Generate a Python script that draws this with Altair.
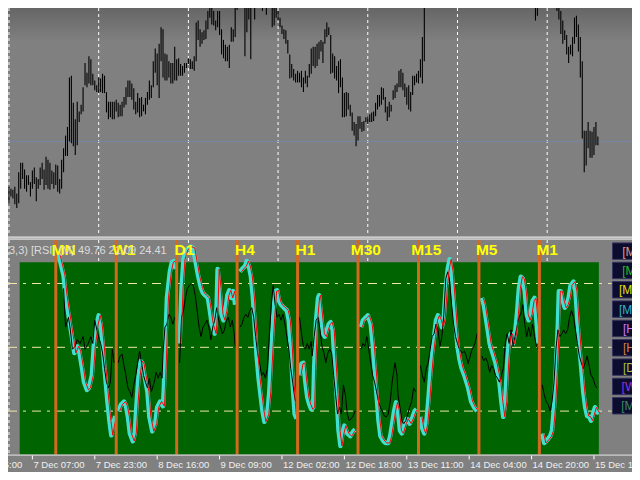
import altair as alt
import pandas as pd

# ---------------- data ----------------
# price pane: bar index, high, low (price points)
bar_u = list(range(0, 214)) + [270, 271] + list(range(281, 303))
bar_high = [
    55, 53, 52, 55, 48, 70, 80, 80, 73, 67,
    67, 60, 72, 75, 65, 63, 75, 80, 73, 86,
    83, 80, 72, 70, 78, 77, 63, 83, 95, 108,
    117, 168, 170, 142, 125, 143, 133, 140, 158, 183,
    173, 190, 187, 172, 165, 160, 168, 167, 172, 170,
    153, 143, 143, 143, 143, 145, 142, 140, 143, 148,
    158, 165, 165, 162, 157, 143, 152, 147, 148, 140,
    147, 153, 165, 160, 185, 198, 193, 203, 220, 218,
    193, 192, 185, 183, 183, 200, 187, 188, 182, 180,
    183, 183, 188, 187, 185, 190, 225, 227, 218, 215,
    217, 227, 237, 260, 260, 237, 227, 237, 237, 218,
    207, 202, 200, 202, 220, 218, 260, 260, 275, 280,
    270, 260, 260, 260, 260, 270, 260, 270, 275, 272,
    260, 268, 260, 266, 264, 260, 260, 260, 237, 230,
    222, 218, 217, 207, 192, 182, 177, 172, 175, 173,
    175, 168, 175, 170, 182, 198, 200, 200, 203, 205,
    207, 205, 218, 225, 220, 212, 193, 190, 180, 185,
    187, 168, 152, 153, 152, 140, 132, 122, 120, 128,
    128, 122, 123, 127, 128, 130, 132, 133, 142, 150,
    150, 158, 157, 148, 138, 143, 140, 155, 160, 162,
    175, 177, 173, 162, 158, 160, 153, 170, 170, 172,
    175, 187, 210, 260,
    260, 260,
    260, 260, 237, 227, 217, 212, 200, 202, 210, 230, 232,
    223, 210, 185, 113, 113, 122, 113, 112, 117, 122, 107,
]
bar_low = [
    38, 45, 43, 37, 33, 38, 53, 63, 53, 50,
    57, 45, 53, 58, 40, 53, 57, 63, 52, 57,
    53, 52, 58, 53, 57, 50, 48, 53, 70, 87,
    87, 102, 100, 97, 88, 98, 122, 130, 133, 160,
    158, 162, 160, 160, 155, 153, 152, 153, 152, 152,
    132, 125, 127, 125, 125, 133, 127, 128, 128, 137,
    140, 148, 148, 145, 135, 130, 132, 127, 128, 133,
    130, 140, 145, 147, 158, 173, 160, 147, 185, 168,
    165, 165, 168, 162, 162, 165, 165, 170, 170, 170,
    173, 178, 182, 177, 177, 175, 185, 207, 200, 203,
    207, 208, 218, 230, 223, 222, 217, 220, 212, 192,
    188, 185, 185, 178, 205, 205, 210, 238, 250, 255,
    248, 190, 215, 228, 187, 245, 228, 248, 250, 246,
    237, 244, 233, 245, 243, 220, 222, 230, 227, 220,
    213, 208, 203, 193, 167, 168, 165, 163, 163, 163,
    158, 153, 162, 158, 168, 172, 180, 178, 180, 187,
    195, 183, 203, 210, 212, 172, 173, 167, 165, 152,
    158, 127, 127, 128, 135, 128, 113, 108, 97, 103,
    115, 112, 113, 122, 120, 122, 122, 123, 128, 135,
    138, 140, 145, 132, 123, 127, 133, 145, 147, 153,
    158, 158, 155, 148, 140, 135, 133, 150, 160, 163,
    162, 168, 162, 185,
    227, 232,
    237, 228, 213, 203, 207, 192, 183, 192, 190, 203, 210,
    195, 168, 105, 70, 77, 95, 85, 85, 88, 98, 98,
]
price_line = [102]

# timeframes and the bar where each indicator block starts
tf_names = ["MN", "W1", "D1", "H4", "H1", "M30", "M15", "M5", "M1"]
tf_start = [24, 55, 86, 117, 148, 179, 210, 241, 272]

# fast RSI (turquoise / red), per timeframe block
fast_u = {
    "MN": [25.5, 26, 28, 29, 30.5, 31.5, 32.5, 33.5, 35, 36, 37.5, 38.5, 40, 41, 42.5, 43.5, 45, 46, 47, 48, 49, 50.5, 51.5, 52.5, 53.5, 54.5],
    "W1": [56, 57.5, 59, 60, 61, 62, 63.5, 64.5, 65.5, 66.5, 67.5, 68.5, 69.5, 71, 72, 73.5, 75, 76, 77.5, 79, 79.5, 80.5, 81, 82.5, 83.5, 84.5, 85.5],
    "D1": [87.5, 88.5, 89.5, 91, 93, 94.5, 95.5, 97, 98.5, 99.5, 100.5, 102, 103, 104, 105.5, 106.5, 107, 108, 109, 110, 111, 112, 113, 114, 115, 116],
    "H4": [118.5, 119.5, 121, 122, 123, 124, 125, 126, 127, 128, 129, 130, 131, 132.5, 133.5, 134.5, 135.5, 136.5, 137.5, 138.5, 139.5, 141, 142.5, 143.5, 144.5, 145.5, 146.5, 147.5],
    "H1": [149, 150, 151, 152, 153, 154, 155, 156, 156.5, 157.5, 158.5, 159, 160, 161, 162, 163, 164, 165, 166, 167, 168, 169, 170, 171, 172, 173.5, 175, 176.5, 177.5],
    "M30": [180.5, 181.5, 183, 184, 185.5, 186.5, 187.5, 188.5, 189.5, 190.5, 192, 193, 194.5, 195.5, 196.5, 197.5, 198.5, 199.5, 200.5, 201.5, 203, 204, 205.5, 207, 208, 209],
    "M15": [211, 212, 213, 214, 215, 216, 217, 218, 219, 220, 221, 222, 223, 224, 225, 226, 227, 228, 229, 230, 231, 232, 233.5, 235.5, 237, 238.5, 240],
    "M5": [242.5, 243.5, 244.5, 245.5, 246.5, 248, 249.5, 250.5, 251.5, 252.5, 253.5, 254.5, 255.5, 256.5, 257.5, 258.5, 259.5, 260.5, 261.5, 262.5, 263.5, 264.5, 265.5, 266.5, 267.5, 268.5, 269.5, 270.5, 271.5],
    "M1": [273.5, 274.5, 276, 277.5, 278.5, 279.5, 280.5, 281.5, 282, 283, 284, 285, 286, 287, 288, 289.5, 290.5, 291.5, 292.5, 293.5, 294.5, 295.5, 296.5, 297.5, 298.5, 299.5, 300.5, 301.5, 302.5],
}
fast_v = {
    "MN": [93.6, 91.4, 83.6, 74.5, 65.5, 59.5, 53.6, 47.3, 50.5, 48.2, 40, 33.6, 30, 30.9, 36.8, 50.5, 60.9, 65, 60.9, 51.8, 40, 24.5, 15.5, 8.6, 14.1, 17.7],
    "W1": [20, 23.2, 24.5, 22.3, 17.3, 9.5, 5.9, 9.5, 24.5, 36.8, 43.6, 42.3, 36.8, 29.1, 17.3, 10.5, 14.1, 21.8, 24.5, 22.3, 32.3, 59.5, 73.2, 85.5, 90, 90.5, 86.8],
    "D1": [51.8, 77.7, 91.4, 95.9, 97.3, 96.8, 91.4, 83.6, 77.7, 75.5, 74.5, 73.2, 67.3, 60.9, 56.4, 70, 86.8, 77.7, 65.5, 62.7, 67.3, 74.5, 76.8, 73.2, 76.4, 70],
    "H4": [85.5, 86.8, 88.2, 90.5, 88.2, 83.6, 74.5, 60.9, 45.9, 35.5, 27.7, 20, 15, 18.6, 29.1, 47.3, 64.1, 76.4, 76.8, 71.8, 70, 68.6, 67.3, 62.7, 50.5, 32.3, 18.6, 16.4],
    "H1": [36.8, 42.3, 42.7, 33.6, 26.4, 23.2, 20.9, 21.8, 40, 62.7, 73.2, 74.5, 65.5, 56.4, 55, 58.2, 60.9, 61.8, 58.2, 42.7, 27.7, 10.9, 3.6, 9.5, 13.2, 9.5, 8.2, 10.5, 11.4],
    "M30": [59.5, 62.7, 64.1, 65, 60.9, 51.8, 40, 27.7, 15.5, 8.2, 5.9, 5, 5, 8.2, 14.1, 20, 24.1, 20, 10.9, 9.5, 14.1, 16.4, 14.1, 17.3, 20, 20.9],
    "M15": [17.3, 11.8, 9.5, 14.1, 24.5, 36.8, 47.3, 55, 62.7, 65, 62.7, 59.5, 64.1, 77.7, 86.8, 91.4, 85.5, 73.2, 60.9, 50.5, 44.5, 40.5, 36.8, 30.9, 24.5, 21.8, 20],
    "M5": [73.2, 70, 64.1, 58.2, 51.8, 47.3, 42.7, 38.2, 33.6, 24.5, 17.3, 24.5, 42.7, 55, 56.4, 51.8, 56.4, 65.5, 77.7, 83.2, 82.3, 76.4, 65.5, 62.7, 65.5, 71.8, 73.2, 62.7, 51.8],
    "M1": [9.5, 5, 6.4, 8.2, 10.9, 21.8, 40, 60.9, 76.4, 76.4, 71.8, 68.6, 70, 73.2, 79.1, 80.9, 76.4, 62.7, 50.5, 40, 29.1, 21.8, 17.7, 17.3, 15.5, 18.6, 21.8, 20, 18.6],
}

# slow RSI (black), per timeframe block
slow_u = {
    "MN": [28, 29, 30.5, 31.5, 32.5, 34, 35, 36.5, 38, 39, 40.5, 42, 43, 44, 45.5, 47, 48, 49, 50, 51, 52, 53, 54],
    "W1": [56, 57, 58, 59, 60, 61, 62, 63, 64, 65, 66, 67, 68, 69, 70, 71, 72, 73, 74.5, 75.5, 76.5, 77.5, 78.5, 79, 80, 81, 82, 83, 84, 85],
    "D1": [87.5, 88.5, 89.5, 90.5, 91.5, 92.5, 93.5, 94.5, 95.5, 96.5, 97.5, 98.5, 99.5, 100.5, 101.5, 102.5, 103.5, 104.5, 105.5, 106.5, 107.5, 108.5, 109.5, 110.5, 111.5, 112.5, 113.5, 114.5, 115.5, 116],
    "H4": [118.5, 119.5, 120.5, 121.5, 122.5, 123.5, 124.5, 125.5, 126.5, 127.5, 128.5, 129.5, 130.5, 131.5, 132.5, 133.5, 134.5, 135.5, 136.5, 137.5, 138.5, 139.5, 140.5, 141.5, 142.5, 143.5, 144.5, 145.5, 146.5, 147],
    "H1": [149, 150, 151, 152, 153, 154, 155, 155.5, 156.5, 157.5, 158.5, 159.5, 160.5, 161.5, 162.5, 163.5, 164.5, 165.5, 166.5, 167.5, 168.5, 169.5, 170.5, 171.5, 172.5, 173.5, 174.5, 175.5, 176.5, 177.5],
    "M30": [180.5, 181.5, 182.5, 183.5, 184.5, 185.5, 186.5, 187.5, 188.5, 189.5, 190.5, 191.5, 192.5, 193.5, 194.5, 195.5, 196.5, 197.5, 198, 199, 199.5, 200.5, 201.5, 202.5, 203.5, 204.5, 205.5, 206.5, 207.5, 208.5],
    "M15": [211, 212, 213, 214, 215, 216, 217, 218, 219, 220, 221, 222, 223, 224, 225, 226, 227, 228, 229, 230, 231, 232.5, 233.5, 234.5, 235.5, 236.5, 237.5, 239, 240],
    "M5": [242.5, 243.5, 244.5, 245.5, 246.5, 247.5, 248.5, 249.5, 250.5, 251.5, 252.5, 253.5, 254.5, 255.5, 256.5, 257.5, 258.5, 259.5, 260.5, 261.5, 262.5, 263.5, 264.5, 265.5, 266.5, 267.5, 268.5, 269.5, 270.5, 271.5],
    "M1": [273.5, 274.5, 275.5, 276.5, 277.5, 278.5, 279.5, 280.5, 281.5, 282.5, 283.5, 284.5, 285.5, 286.5, 287.5, 288.5, 289.5, 290.5, 291.5, 292.5, 293.5, 294.5, 295.5, 296.5, 297.5, 298.5, 299.5, 300.5, 301.5],
}
slow_v = {
    "MN": [77.7, 59.5, 64.1, 58.2, 49.1, 50.5, 53.6, 51.8, 55, 49.1, 51.4, 55, 51.8, 62.7, 56.4, 51.8, 47.3, 40, 33.6, 30.9, 33.6, 49.1, 42.7],
    "W1": [42.7, 45.9, 46.8, 41.4, 36.8, 30.9, 29.1, 26.4, 32.3, 36.8, 42.7, 48.2, 42.7, 36.8, 33.6, 30.9, 35.5, 29.1, 33.6, 38.2, 35.5, 38.2, 35.5, 47.3, 59.5, 60.9, 65.5, 64.1, 60.9, 64.1],
    "D1": [42.7, 64.1, 67.3, 73.2, 77.7, 79.1, 80, 79.1, 74.5, 67.3, 59.5, 55, 59.5, 60.9, 62.7, 59.5, 53.6, 59.5, 62.7, 68.6, 62.7, 59.5, 56.4, 58.2, 62.7, 64.1, 59.5, 62.7, 56.4, 50.5],
    "H4": [59.5, 60.9, 64.1, 65.5, 64.1, 67.3, 68.6, 64.1, 55, 47.3, 42.7, 36.8, 38.2, 35.5, 40, 55, 70, 79.1, 70, 64.1, 65.5, 62.7, 65.5, 60.9, 55, 49.1, 40, 33.6, 26.4, 24.5],
    "H1": [64.1, 56.4, 50.5, 49.1, 51.8, 49.1, 52.7, 45.9, 55, 62.7, 64.1, 58.2, 50.5, 47.3, 42.7, 47.3, 49.1, 47.3, 36.8, 27.7, 18.6, 21.8, 18.6, 32.3, 27.7, 18.6, 15.5, 16.4, 17.7, 20],
    "M30": [49.1, 51.8, 50.5, 55, 49.1, 42.7, 36.8, 33.6, 29.1, 24.5, 21.8, 20, 17.7, 17.3, 18.6, 24.5, 33.6, 40, 42.7, 36.8, 27.7, 21.8, 15.5, 14.1, 15.5, 18.6, 21.8, 24.5, 30.9, 29.1],
    "M15": [41.4, 36.8, 33.6, 40, 42.7, 49.1, 55, 56.4, 60.9, 58.2, 50.5, 55, 65.5, 82.3, 85.5, 80.9, 70, 60.9, 55, 51.8, 49.1, 47.3, 48.2, 45.9, 42.3, 45.9, 49.1, 51.8, 56.4],
    "M5": [45.9, 43.6, 45, 42.7, 38.2, 41.4, 40, 36.8, 35.5, 33.6, 36.8, 40, 51.8, 56.4, 51.8, 58.2, 50.5, 55, 59.5, 64.1, 65.5, 70, 60.9, 55, 59.5, 55, 60.9, 55, 50.5, 49.1],
    "M1": [32.3, 27.7, 24.5, 23.2, 20, 24.5, 33.6, 49.1, 58.2, 55, 56.4, 58.2, 56.4, 58.2, 64.1, 67.3, 64.1, 58.2, 51.8, 45.9, 42.7, 40, 42.7, 45.9, 41.4, 36.8, 35.5, 32.3, 30.9],
}

rsi_levels = [20, 50, 80]
grid_u = [0, 46, 92, 138, 184, 230, 276]
tick_u = [-20, 12, 44, 76, 108, 140, 172, 204, 236, 268, 300]
tick_labels = ["6 Dec 15:00", "7 Dec 07:00", "7 Dec 23:00", "8 Dec 16:00", "9 Dec 09:00",
               "12 Dec 02:00", "12 Dec 18:00", "13 Dec 11:00", "14 Dec 04:00",
               "14 Dec 20:00", "15 Dec 13:00"]
button_labels = ["[M1]", "[M5]", "[M15]", "[M30]", "[H1]", "[H4]", "[D1]", "[W1]", "[MN]"]
button_colors = ["#e9967a", "#22c022", "#e0e000", "#2ab4c8", "#c878ff",
                 "#d08040", "#a8c040", "#9a30e8", "#3a8a62"]
indicator_title = "3,3) [RSI] (M) 49.76 21.09 24.41"

# ---------------- layout ----------------
W, H = 624, 464
SX, SY = W / 640, H / 480


def px(v):
    return v * SX


def py(v):
    return v * SY


def xsc():
    return alt.Scale(domain=[-0.5, 319.5])


PRICE = alt.Scale(domain=[0, 240], range=[py(240), py(0)])
RSI = alt.Scale(domain=[0, 100], range=[py(461), py(241)])
FONT = "Liberation Sans"

one = pd.DataFrame({"a": [0]})

bars = pd.DataFrame({"u": bar_u, "high": bar_high, "low": bar_low})
fast = pd.DataFrame([(tf, u, v) for tf in tf_names for u, v in zip(fast_u[tf], fast_v[tf])],
                    columns=["tf", "u", "v"])
slow = pd.DataFrame([(tf, u, v) for tf in tf_names for u, v in zip(slow_u[tf], slow_v[tf])],
                    columns=["tf", "u", "v"])
tfs = pd.DataFrame({"tf": tf_names, "u": tf_start})
grid = pd.DataFrame({"u": grid_u})
ticks = pd.DataFrame({"u": tick_u, "label": tick_labels})
levels = pd.DataFrame({"level": rsi_levels})
btn = pd.DataFrame({"k": list(range(len(button_labels))), "label": button_labels, "col": button_colors})
btn["k2"] = btn["k"] + 0.85
btn["kc"] = btn["k"] + 0.45
hline = pd.DataFrame({"p": price_line})

X = lambda f: alt.X(f, scale=xsc(), axis=None)

grad = alt.Chart(one).mark_rect(
    color=alt.LinearGradient(gradient="linear",
                             stops=[alt.GradientStop(color="#666666", offset=0),
                                    alt.GradientStop(color="#808080", offset=1)],
                             x1=0, x2=0, y1=0, y2=1)
).encode(x=alt.value(0), x2=alt.value(W), y=alt.value(0), y2=alt.value(py(35)))

top_grid = alt.Chart(grid).mark_rule(color="white", strokeWidth=1, strokeDash=[3, 3]).encode(
    x=X("u:Q"), y=alt.value(0), y2=alt.value(py(236)))

price_h = alt.Chart(hline).mark_rule(color="#7686a6", strokeWidth=1).encode(
    y=alt.Y("p:Q", scale=PRICE, axis=None), x=alt.value(0), x2=alt.value(W))

price_bars = alt.Chart(bars).mark_rule(color="black", strokeWidth=1.1, clip=True).encode(
    x=X("u:Q"), y=alt.Y("high:Q", scale=PRICE, axis=None), y2="low:Q")

sep = alt.Chart(pd.DataFrame({"yy": [py(237), py(239)]})).mark_rule(color="white", strokeWidth=1).encode(
    y=alt.Y("yy:Q", scale=None), x=alt.value(0), x2=alt.value(W))

ind_grid = alt.Chart(grid).mark_rule(color="white", strokeWidth=1, strokeDash=[3, 3]).encode(
    x=X("u:Q"), y=alt.value(py(240)), y2=alt.value(py(462)))

green = alt.Chart(one).mark_rect(color="#006400").encode(
    x=alt.value(px(12)), x2=alt.value(px(606)), y=alt.value(py(263)), y2=alt.value(py(462)))

level_rules = alt.Chart(levels).mark_rule(color="#eee8aa", strokeWidth=1, strokeDash=[9, 6, 3, 6]).encode(
    y=alt.Y("level:Q", scale=RSI, axis=None), x=alt.value(0), x2=alt.value(px(619)))

cyan = alt.Chart(fast).mark_line(color="#40e0d0", strokeWidth=4.5, strokeJoin="round").encode(
    x=X("u:Q"), y=alt.Y("v:Q", scale=RSI, axis=None), detail="tf:N")

black = alt.Chart(slow).mark_line(color="black", strokeWidth=1).encode(
    x=X("u:Q"), y=alt.Y("v:Q", scale=RSI, axis=None), detail="tf:N")

red = alt.Chart(fast).mark_line(color="#ff0000", strokeWidth=1, xOffset=1.5).encode(
    x=X("u:Q"), y=alt.Y("v:Q", scale=RSI, axis=None), detail="tf:N")

orange = alt.Chart(tfs).mark_rule(color="#d2691e", strokeWidth=3).encode(
    x=X("u:Q"), y=alt.value(py(240)), y2=alt.value(py(462)))

tf_text = alt.Chart(tfs).mark_text(
    align="center", baseline="alphabetic", dx=px(8), font=FONT, fontWeight="bold",
    fontSize=15.5, color="#ffff00").encode(x=X("u:Q"), y=alt.value(py(255)), text="tf:N")

title_text = alt.Chart(pd.DataFrame({"t": [indicator_title]})).mark_text(
    align="left", baseline="alphabetic", font=FONT, fontSize=11, color="#dcdcdc").encode(
    x=alt.value(px(1)), y=alt.value(py(254)), text="t:N")

axis_line = alt.Chart(one).mark_rule(color="#e6e6e6", strokeWidth=1).encode(
    x=alt.value(0), x2=alt.value(W), y=alt.value(py(462.5)))

tick_marks = alt.Chart(ticks).mark_rule(color="white", strokeWidth=1).encode(
    x=X("u:Q"), y=alt.value(py(463)), y2=alt.value(py(467)))

tick_text = alt.Chart(ticks).mark_text(
    align="left", baseline="alphabetic", dx=1, font=FONT, fontSize=9.5, color="#f0f0f0", clip=True
).encode(x=X("u:Q"), y=alt.value(py(476)), text="label:N")

BTN_Y = alt.Scale(domain=[0, 9], range=[py(243), py(423)])
btn_rect = alt.Chart(btn).mark_rect(color="#0c0c2e", stroke="#34345e", strokeWidth=1).encode(
    x=alt.value(px(620)), x2=alt.value(px(668)),
    y=alt.Y("k:Q", scale=BTN_Y, axis=None), y2="k2:Q")

btn_text = alt.Chart(btn).mark_text(align="center", baseline="middle", font=FONT, fontSize=12).encode(
    x=alt.value(px(642)), y=alt.Y("kc:Q", scale=BTN_Y, axis=None), text="label:N",
    color=alt.Color("col:N", scale=None))

chart = alt.layer(
    grad, top_grid, price_h, price_bars, sep,
    ind_grid, green, level_rules, cyan, black, red, orange, tf_text, title_text,
    axis_line, tick_marks, tick_text, btn_rect, btn_text,
).resolve_scale(x="independent", y="independent").properties(
    width=W, height=H, padding=0, autosize=alt.AutoSizeParams(type="none")
).configure(background="#808080").configure_view(strokeWidth=0)

chart.save("out.html", embed_options={"renderer": "svg", "actions": False})
